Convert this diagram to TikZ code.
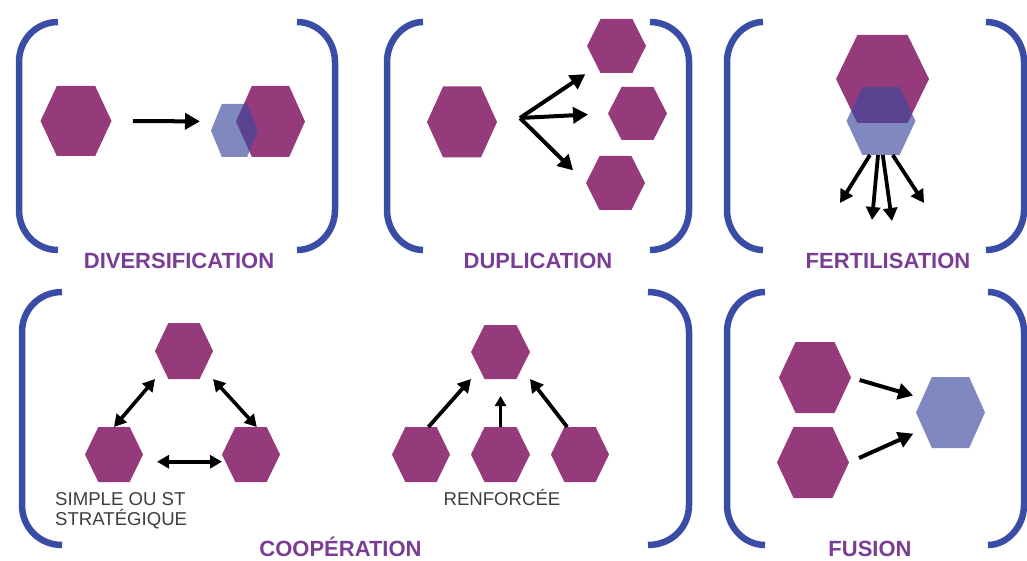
\documentclass[tikz,border=0pt]{standalone}
\usepackage{fontspec}
\setmainfont{Liberation Sans}
\usetikzlibrary{arrows.meta}

\definecolor{hexpurple}{HTML}{953A7B}
\definecolor{hexblue}{RGB}{60,72,158}
\definecolor{bracketblue}{HTML}{3A4DA6}
\definecolor{labelpurple}{HTML}{7A3D96}
\definecolor{notegray}{HTML}{3D3D3D}

\tikzset{
  hexbox/.style={rectangle, inner sep=0pt, outer sep=0pt, draw=none},
  purplehex/.style={fill=hexpurple},
  bluehex/.style={fill=hexblue, fill opacity=0.65},
  brk/.style={draw=bracketblue, line width=6.5pt},
  arr/.style={line width=4pt, -{Triangle[length=15pt,width=16pt]}},
  arrsmall/.style={line width=3.8pt, -{Triangle[length=13pt,width=14pt]}},
  arrthin/.style={line width=2.8pt, -{Triangle[length=10pt,width=11pt]}},
  darr/.style={line width=3.6pt, {Triangle[length=12pt,width=13pt]}-{Triangle[length=12pt,width=13pt]}},
  title/.style={font=\bfseries\fontsize{22}{24}\selectfont, text=labelpurple, inner sep=0pt, anchor=base},
  note/.style={font=\fontsize{18.6}{20}\selectfont, text=notegray, inner sep=0pt}
}

% hexagon with flat top and bottom: name, x, y, half width, half height, fill style
\newcommand{\hexcell}[6]{%
  \fill[#6] ({#2-#4},#3) -- ({#2-0.54*#4},{#3-#5}) -- ({#2+0.54*#4},{#3-#5})
    -- ({#2+#4},#3) -- ({#2+0.54*#4},{#3+#5}) -- ({#2-0.54*#4},{#3+#5}) -- cycle;
  \node[hexbox, minimum width=2*#4pt, minimum height=2*#5pt] (#1) at (#2,#3) {};
}

% rounded brackets: x of the upright, x of the tips, top y, bottom y
\newcommand{\openbr}[4]{%
  \draw[brk] (#2,#3) .. controls ({#1+17},#3) and (#1,{#3+18}) .. (#1,{#3+40})
    -- (#1,{#4-40}) .. controls (#1,{#4-18}) and ({#1+17},#4) .. (#2,#4);}
\newcommand{\closebr}[4]{%
  \draw[brk] (#2,#3) .. controls ({#1-17},#3) and (#1,{#3+18}) .. (#1,{#3+40})
    -- (#1,{#4-40}) .. controls (#1,{#4-18}) and ({#1-17},#4) .. (#2,#4);}

\begin{document}
\begin{tikzpicture}[x=1pt,y=-1pt]
\useasboundingbox (0,0) rectangle (1027,561);

% ---- brackets ----
\openbr{19}{58}{22}{250}   \closebr{335}{297}{22}{250}
\openbr{387}{423}{22}{250} \closebr{689}{650}{22}{250}
\openbr{727}{763}{22}{250} \closebr{1024}{986}{22}{250}
\openbr{22}{62}{292}{545}  \closebr{689}{648}{292}{545}
\openbr{727}{765}{292}{545} \closebr{1024}{988}{292}{545}

% ---- diversification ----
\hexcell{divA}{76}{121}{35.5}{35}{purplehex}
\hexcell{divC}{270.5}{121.5}{34.5}{35.5}{purplehex}
\hexcell{divB}{234.5}{130.5}{23.5}{26.5}{bluehex}
\draw[arr, shorten <=21.5pt, shorten >=36pt] (divA.east) -- (divC.west);
\node[title] (tDiv) at (179,269) {DIVERSIFICATION};

% ---- duplication ----
\hexcell{dupA}{462}{122}{35}{35.5}{purplehex}
\hexcell{dupB}{616.5}{46}{29.5}{27}{purplehex}
\hexcell{dupC}{637.5}{113.5}{29.5}{26.5}{purplehex}
\hexcell{dupD}{615.5}{183}{29.5}{27}{purplehex}
\coordinate (dupFan) at (520,118);
\draw[arr, shorten >=2pt] (dupFan) -- (dupB.south west);
\draw[arr, shorten >=20pt] (dupFan) -- (dupC.west);
\draw[arr, shorten >=18pt] (dupFan) -- (dupD.west);
\node[title] (tDup) at (538,269) {DUPLICATION};

% ---- fertilisation ----
\hexcell{ferA}{882.5}{79}{46.5}{44}{purplehex}
\hexcell{ferB}{881}{121}{34.5}{34}{bluehex}
\coordinate (ferT1) at (840,203);
\coordinate (ferT2) at (872,220);
\coordinate (ferT3) at (892,221);
\coordinate (ferT4) at (924,203);
\draw[arrsmall] (ferB.-108) -- (ferT1);
\draw[arrsmall] (ferB.-95) -- (ferT2);
\draw[arrsmall] (ferB.-87) -- (ferT3);
\draw[arrsmall] (ferB.-71) -- (ferT4);
\node[title] (tFer) at (888,269) {FERTILISATION};

% ---- cooperation, simple ----
\hexcell{coTop}{184}{351}{29}{28}{purplehex}
\hexcell{coLeft}{114}{454.5}{29}{27.5}{purplehex}
\hexcell{coRight}{251}{454.5}{29}{27.5}{purplehex}
\draw[darr] (coTop.south west) -- (coLeft.north);
\draw[darr] (coTop.south east) -- (coRight.78);
\draw[darr, shorten <=14pt] (coLeft.-14) -- (coRight.194);
\node[note, anchor=north west, align=left] (coNote) at (55,492) {SIMPLE OU ST\\STRATÉGIQUE};

% ---- cooperation, reinforced ----
\hexcell{reTop}{500.5}{352}{29.5}{27}{purplehex}
\hexcell{reL}{421}{454.5}{29}{27.5}{purplehex}
\hexcell{reM}{500.5}{454.5}{29.5}{27.5}{purplehex}
\hexcell{reR}{580}{454.5}{29}{27.5}{purplehex}
\draw[arrsmall] (reL.75) -- (reTop.south west);
\draw[arrthin, shorten >=17pt] (reM.north) -- (reTop.south);
\draw[arrsmall] (reR.115) -- (reTop.south east);
\node[note, anchor=base] (reNote) at (502,505) {RENFORCÉE};
\node[title] (tCoop) at (340.5,556) {COOPÉRATION};

% ---- fusion ----
\hexcell{fuA}{815}{377.5}{36}{35.5}{purplehex}
\hexcell{fuB}{813}{462.5}{36}{35.5}{purplehex}
\hexcell{fuC}{950.5}{412.5}{34.5}{35.5}{bluehex}
\draw[arr, shorten <=9pt, shorten >=3pt] (fuA.east) -- (fuC.155);
\draw[arr, shorten <=11pt, shorten >=3pt] (fuB.east) -- (fuC.210);
\node[title] (tFus) at (870,556) {FUSION};
\end{tikzpicture}
\end{document}
